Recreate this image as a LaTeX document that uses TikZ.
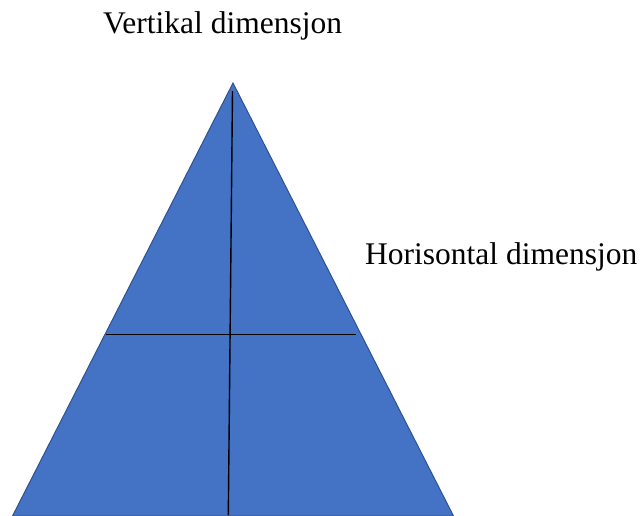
\documentclass[tikz,border=0pt]{standalone}
\usepackage{fontspec}
\setmainfont{Liberation Serif}
\definecolor{triblue}{HTML}{4472C4}
\definecolor{triedge}{HTML}{2F528F}
\begin{document}
\begin{tikzpicture}[x=1pt,y=-1pt,
  lbl/.style={anchor=base west,inner sep=0pt,font=\fontsize{31.5}{37}\selectfont},
  axis/.style={draw=black,line width=1.4pt}]
\useasboundingbox (0,0) rectangle (642,515);
\coordinate (apex) at (233,83);
\coordinate (bl) at (12.5,516);
\coordinate (br) at (453.5,516);
\begin{scope}
\clip (0,0) rectangle (642,515);
\filldraw[fill=triblue,draw=triedge,line width=1pt] (apex) -- (br) -- (bl) -- cycle;
\end{scope}
\coordinate (vtop) at (232.5,91);
\coordinate (vbot) at (228.3,515);
\coordinate (hl) at (106,334.7);
\coordinate (hr) at (356,334.7);
\draw[axis] (vtop) -- (vbot);
\draw[axis] (hl) -- (hr);
\node[lbl] (vlab) at (103,33) {Vertikal dimensjon};
\node[lbl] (hlab) at (365,264) {Horisontal dimensjon};
\end{tikzpicture}
\end{document}
